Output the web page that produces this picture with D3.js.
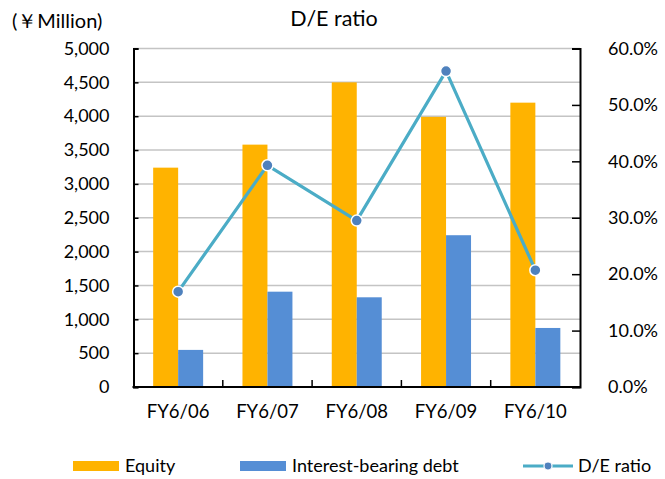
<!DOCTYPE html>
<html><head><meta charset="utf-8">
<script src="https://cdn.jsdelivr.net/npm/d3@7"></script>
<style>
html,body{margin:0;padding:0;background:#fff;}
text{font-family:Lato,"Noto Sans",sans-serif;fill:#000;}
</style></head>
<body>
<svg id="c" width="665" height="479"></svg>
<script>
const categories = ["FY6/06","FY6/07","FY6/08","FY6/09","FY6/10"];
const equity = [3240, 3580, 4500, 3990, 4200];
const debt = [548, 1408, 1325, 2242, 872];
const deRatio = [16.9, 39.3, 29.5, 56.0, 20.7];
const leftTicks = [0,500,1000,1500,2000,2500,3000,3500,4000,4500,5000];
const rightTicks = [0,10,20,30,40,50,60];
const seriesNames = ["Equity","Interest-bearing debt","D/E ratio"];
const colors = {eq:"#FFB300", debt:"#558ED5", line:"#4BACC6", marker:"#4F81BD"};

const svg = d3.select("#c");
const L = 133.5, R = 580, T = 48.5, B = 387;

const x = d3.scaleBand().domain(categories).range([L, R]).padding(0);
const x1 = d3.scaleBand().domain(["eq","debt"]).range([0, x.bandwidth()]).paddingInner(0).paddingOuter(0.787);
const y = d3.scaleLinear().domain([0,5000]).range([B, T]);
const y2 = d3.scaleLinear().domain([0,60]).range([B, T]);

// gridlines
svg.append("g").selectAll("line").data(leftTicks.filter(d=>d>0)).join("line")
  .attr("x1", L).attr("x2", R).attr("y1", d=>y(d)).attr("y2", d=>y(d))
  .attr("stroke", "#c4c4c4").attr("stroke-width", 1.5);

// bars
const g = svg.append("g");
categories.forEach((c,i)=>{
  g.append("rect").attr("x", x(c)+x1("eq")).attr("width", x1.bandwidth())
    .attr("y", y(equity[i])).attr("height", y(0)-y(equity[i])).attr("fill", colors.eq);
  g.append("rect").attr("x", x(c)+x1("debt")).attr("width", x1.bandwidth())
    .attr("y", y(debt[i])).attr("height", y(0)-y(debt[i])).attr("fill", colors.debt);
});

// left axis
const ly = d3.axisLeft(y).tickValues(leftTicks).tickSize(-5).tickPadding(24).tickFormat(d3.format(","));
const gl = svg.append("g").attr("transform", `translate(${L},0)`).call(ly);
gl.select(".domain").attr("stroke","#000").attr("stroke-width",2);
gl.selectAll(".tick line").attr("stroke","#000").attr("stroke-width",1.5);
gl.selectAll(".tick text").attr("font-size",18).attr("font-family","Lato").attr("fill","#000");

// right axis
const ry = d3.axisRight(y2).tickValues(rightTicks).tickSize(-8).tickPadding(28).tickFormat(d=>d3.format(".1f")(d)+"%");
const gr = svg.append("g").attr("transform", `translate(${R},0)`).call(ry);
gr.select(".domain").attr("stroke","#000").attr("stroke-width",2);
gr.selectAll(".tick line").attr("stroke","#000").attr("stroke-width",1.5);
gr.selectAll(".tick text").attr("font-size",18).attr("font-family","Lato").attr("fill","#000");

// bottom axis
svg.append("line").attr("x1", L-1).attr("x2", R+1).attr("y1", B).attr("y2", B).attr("stroke","#000").attr("stroke-width",2);
svg.append("g").selectAll("line").data(categories.slice(1)).join("line")
  .attr("x1", d=>x(d)).attr("x2", d=>x(d)).attr("y1", B).attr("y2", B-7)
  .attr("stroke","#000").attr("stroke-width",1.5);
svg.append("g").selectAll("text").data(categories).join("text")
  .attr("x", d=>x(d)+x.bandwidth()/2).attr("y", 418).attr("text-anchor","middle")
  .attr("font-size",18.5).text(d=>d);

// line
const pts = categories.map((c,i)=>[x(c)+x.bandwidth()/2, y2(deRatio[i])]);
svg.append("path").attr("d", d3.line()(pts)).attr("fill","none")
  .attr("stroke", colors.line).attr("stroke-width",3.2).attr("stroke-linejoin","round");
svg.append("g").selectAll("circle").data(pts).join("circle")
  .attr("cx", d=>d[0]).attr("cy", d=>d[1]).attr("r",5.5)
  .attr("fill", colors.marker).attr("stroke","#fff").attr("stroke-width",1.5);

// titles
svg.append("text").attr("x", 334).attr("y", 26).attr("text-anchor","middle").attr("font-size",21.5).text("D/E ratio");
svg.append("text").attr("x", 12).attr("y", 28).attr("font-size",20).text("(￥Million)");

// legend
const lg = svg.append("g");
lg.append("rect").attr("x",73).attr("y",461).attr("width",46).attr("height",10).attr("fill",colors.eq);
lg.append("text").attr("x",125).attr("y",472).attr("font-size",18).text(seriesNames[0]);
lg.append("rect").attr("x",240).attr("y",461).attr("width",46).attr("height",10).attr("fill",colors.debt);
lg.append("text").attr("x",292).attr("y",472).attr("font-size",18).text(seriesNames[1]);
lg.append("line").attr("x1",523).attr("x2",573).attr("y1",466).attr("y2",466).attr("stroke",colors.line).attr("stroke-width",3.2);
lg.append("circle").attr("cx",548).attr("cy",466).attr("r",4).attr("fill",colors.marker).attr("stroke","#fff").attr("stroke-width",1.2);
lg.append("text").attr("x",578).attr("y",472).attr("font-size",18).text(seriesNames[2]);
</script>
</body></html>
